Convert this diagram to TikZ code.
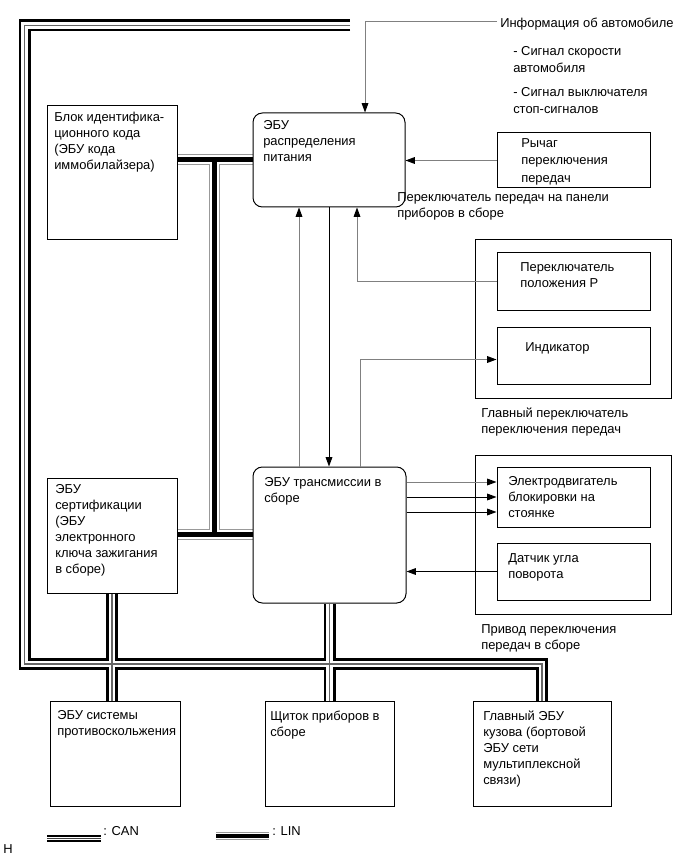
\documentclass[tikz,border=0pt]{standalone}
\usepackage{fontspec}
\setmainfont{Liberation Sans}
\usetikzlibrary{arrows.meta,fit,backgrounds}
\newcommand\mystrut{\rule{0pt}{7.4pt}}
\begin{document}
\begin{tikzpicture}[x=0.75pt,y=-0.75pt,
  plainbox/.style={draw=black,line width=0.75pt,inner sep=0pt},
  rndbox/.style={plainbox,rounded corners=7pt},
  txt/.style={anchor=north west,inner sep=0pt,align=left,font=\fontsize{9.7}{12}\selectfont,execute at begin node=\mystrut},
  txtwide/.style={txt,font=\fontsize{9.7}{13.2}\selectfont},
  gline/.style={draw=black!50,line width=0.75pt},
  bline/.style={draw=black,line width=0.75pt},
  arr/.style={-{Triangle[length=7pt,width=5pt,color=black]}},
  canblack/.style={draw=black,line width=9pt},
  canwhite/.style={draw=white,line width=4.8pt},
  cangray/.style={draw=black!60,line width=1.3pt},
  lingray/.style={draw=black!40,line width=8.25pt},
  linwhite/.style={draw=white,line width=6.75pt},
  linblack/.style={draw=black,line width=3.75pt}
]
\useasboundingbox (0,0) rectangle (691,855);

% boxes
\node[plainbox, fit={(47,106) (177,240)}] (blk) {};
\node[rndbox, fit={(253,113) (405,207)}] (distr) {};
\node[plainbox, fit={(497,133) (650,188)}] (lever) {};
\node[plainbox, fit={(475,240) (671,398)}] (grp1) {};
\node[plainbox, fit={(497,253) (650,310)}] (psw) {};
\node[plainbox, fit={(497,327) (650,384)}] (ind) {};
\node[plainbox, fit={(475,455) (671,614)}] (grp2) {};
\node[plainbox, fit={(497,467) (650,527)}] (motor) {};
\node[plainbox, fit={(497,543) (650,600)}] (sensor) {};
\node[plainbox, fit={(47,478) (177,593)}] (sert) {};
\node[rndbox, fit={(253,467) (406,603)}] (trans) {};
\node[plainbox, fit={(50,701) (180,806)}] (abs) {};
\node[plainbox, fit={(265,701) (394,806)}] (dash) {};
\node[plainbox, fit={(473,701) (611,806)}] (body) {};

% texts
\node[txt] (tblk) at (54,112) {Блок идентифика-\\ционного кода\\(ЭБУ кода\\иммобилайзера)};
\node[txt] (tdistr) at (263,120) {ЭБУ\\распределения\\питания};
\node[txt] (info) at (500,17) {Информация об автомобиле};
\node[txtwide] (sig1) at (513,46) {- Сигнал скорости\\автомобиля};
\node[txtwide] (sig2) at (513,87) {- Сигнал выключателя\\стоп-сигналов};
\node[txtwide] (tlever) at (521,138) {Рычаг\\переключения\\передач};
\node[txt] (llever) at (397,192) {Переключатель передач на панели\\приборов в сборе};
\node[txt] (tpsw) at (520,262.5) {Переключатель\\положения P};
\node[txt] (tind) at (525,341.5) {Индикатор};
\node[txt] (lgrp1) at (481,407.5) {Главный переключатель\\переключения передач};
\node[txt] (ttrans) at (264,477) {ЭБУ трансмиссии в\\сборе};
\node[txt] (tmotor) at (508,476.5) {Электродвигатель\\блокировки на\\стоянке};
\node[txt] (tsensor) at (508,553.5) {Датчик угла\\поворота};
\node[txt] (lgrp2) at (481,624.5) {Привод переключения\\передач в сборе};
\node[txt] (tsert) at (55,484) {ЭБУ\\сертификации\\(ЭБУ\\электронного\\ключа зажигания\\в сборе)};
\node[txt] (tabs) at (57,710.5) {ЭБУ системы\\противоскольжения};
\node[txt] (tdash) at (270,710.5) {Щиток приборов в\\сборе};
\node[txt] (tbody) at (483,710.5) {Главный ЭБУ\\кузова (бортовой\\ЭБУ сети\\мультиплексной\\связи)};
\node[txt] (tcan) at (103,825) {: CAN};
\node[txt] (tlin) at (272,825) {: LIN};
\node[txt] (tH) at (3,843.5) {H};

% signal connectors
\coordinate (infoStart) at (497,22);
\coordinate (infoCorner) at (365,22);
\draw[gline,arr] (infoStart) -- (infoCorner) -- (infoCorner |- distr.north);
\draw[gline,arr] (lever.west) -- (lever.west -| distr.east);
\draw[gline,arr] (psw.west) -| ([shift={(28,0)}]distr.south);
\coordinate (indIn) at ([shift={(0,4)}]ind.west);
\draw[gline,arr] ([shift={(30.5,0)}]trans.north) |- (indIn);
\coordinate (upA) at ([shift={(-30.5,0)}]trans.north);
\draw[gline,arr] (upA) -- (upA |- distr.south);
\draw[bline,arr] (distr.south) -- (distr.south |- trans.north);
\coordinate (m1) at ([shift={(0,-15)}]motor.west);
\coordinate (m3) at ([shift={(0,15)}]motor.west);
\draw[gline,arr] (m1 -| trans.east) -- (m1);
\draw[bline,arr] (motor.west -| trans.east) -- (motor.west);
\draw[bline,arr] (m3 -| trans.east) -- (m3);
\draw[bline,arr] (sensor.west) -- (sensor.west -| trans.east);

% buses
\begin{scope}[on background layer]
\coordinate (canEnd) at (350,25.5);
\coordinate (canTL) at (24.5,25.5);
\coordinate (canBL) at (24.5,664);
\foreach \s in {canblack,canwhite,cangray}{
  \draw[\s] (canEnd) -- (canTL) -- (canBL) -- (canBL -| body.north) -- (body.north);
  \draw[\s] (sert.south) -- (sert.south |- abs.north);
  \draw[\s] (trans.south) -- (dash.north);
}
\coordinate (linT) at (214.5,160);
\coordinate (linBot) at (214.5,534.5);
\foreach \s in {lingray,linwhite,linblack}{
  \draw[\s] (blk.east |- linT) -- (distr.west |- linT);
  \draw[\s] (linT) -- (linBot);
  \draw[\s] (sert.east |- linBot) -- (trans.west |- linBot);
}
% legend
\coordinate (canL1) at (47,838.7);
\coordinate (canL2) at (101,838.7);
\draw[draw=black,line width=5.4pt] (canL1) -- (canL2);
\draw[draw=white,line width=2.6pt] (canL1) -- (canL2);
\draw[draw=black!75,line width=1pt] (canL1) -- (canL2);
\coordinate (linL1) at (216,836);
\coordinate (linL2) at (269,836);
\draw[draw=black!40,line width=6.4pt] (linL1) -- (linL2);
\draw[draw=white,line width=5pt] (linL1) -- (linL2);
\draw[draw=black,line width=3.3pt] (linL1) -- (linL2);
\end{scope}
\end{tikzpicture}
\end{document}
